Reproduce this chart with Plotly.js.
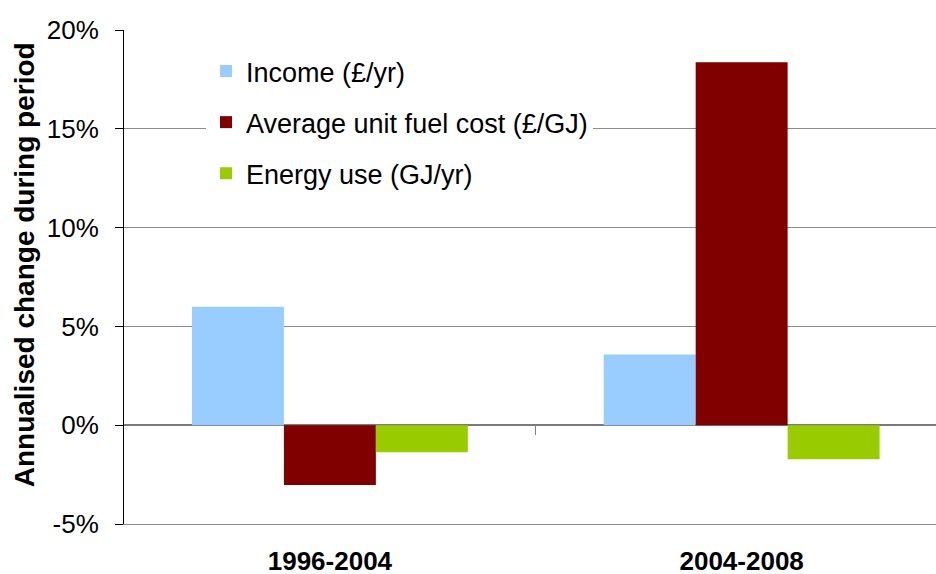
<!DOCTYPE html>
<html>
<head>
<meta charset="utf-8">
<script src="https://cdn.plot.ly/plotly-3.0.1.min.js"></script>
<style>html,body{margin:0;padding:0;background:#fff;}#chart{width:936px;height:574px;}</style>
</head>
<body>
<div id="chart"></div>
<script>
var categories = ["1996-2004", "2004-2008"];
var seriesNames = ["Income (£/yr)", "Average unit fuel cost (£/GJ)", "Energy use (GJ/yr)"];
var income = [6.0, 3.58];
var fuelCost = [-3.02, 18.37];
var energyUse = [-1.37, -1.72];
var yTickVals = [-5, 0, 5, 10, 15, 20];
var yTickText = ["-5%", "0%", "5%", "10%", "15%", "20%"];
var yTitle = "Annualised change during period";
var colors = ["#99CCFF", "#800000", "#99CC00"];

var FONT = "Liberation Sans, Arial, sans-serif";
var values = [income, fuelCost, energyUse];
var traces = values.map(function (v, i) {
  return {
    type: "bar",
    x: categories,
    y: v,
    name: seriesNames[i],
    legendgroup: "g" + i,
    marker: { color: colors[i], line: { width: 0 } },
    hoverinfo: "x+y+name"
  };
});

var layout = {
  width: 936,
  height: 574,
  margin: { l: 124, r: 0, t: 30, b: 50 },
  paper_bgcolor: "#ffffff",
  plot_bgcolor: "#ffffff",
  font: { family: FONT, size: 26, color: "#000000" },
  barmode: "group",
  bargap: 0.33,
  bargroupgap: 0,
  showlegend: true,
  legend: {
    x: 0.101, xanchor: "left",
    y: 0.9656, yanchor: "top",
    bgcolor: "#ffffff",
    borderwidth: 0,
    traceorder: "grouped",
    tracegroupgap: 13,
    font: { family: FONT, size: 27, color: "#000000" }
  },
  xaxis: {
    type: "category",
    range: [-0.5, 1.472],
    showgrid: false,
    zeroline: false,
    showline: true,
    linecolor: "#8c8c8c",
    linewidth: 1,
    ticks: "",
    ticklabelstandoff: 14,
    tickfont: { family: FONT, size: 26, color: "#000000", weight: "bold" },
    fixedrange: true
  },
  xaxis2: {
    overlaying: "x",
    anchor: "free",
    position: 0.2,
    side: "bottom",
    range: [-0.5, 1.472],
    tickmode: "array",
    tickvals: [0.5],
    ticks: "outside",
    ticklen: 9,
    tickwidth: 1,
    tickcolor: "#808080",
    showticklabels: false,
    showgrid: false,
    zeroline: false,
    showline: false,
    fixedrange: true
  },
  yaxis: {
    range: [-5, 20],
    tickmode: "array",
    tickvals: yTickVals,
    ticktext: yTickText,
    ticks: "outside",
    ticklen: 8,
    tickwidth: 1,
    tickcolor: "#000000",
    ticklabelstandoff: 11,
    showline: true,
    linecolor: "#000000",
    linewidth: 1,
    showgrid: true,
    gridcolor: "#8c8c8c",
    gridwidth: 1,
    zeroline: true,
    zerolinecolor: "#7a7a7a",
    zerolinewidth: 2,
    tickfont: { family: FONT, size: 26, color: "#000000" },
    fixedrange: true
  },
  annotations: [{
    text: yTitle,
    xref: "paper", yref: "paper",
    x: -0.123, y: 0.524,
    xanchor: "center", yanchor: "middle",
    textangle: -90,
    showarrow: false,
    font: { family: FONT, size: 28, color: "#000000", weight: "bold" }
  }]
};

// invisible helper trace so xaxis2 is drawn
traces.push({
  type: "scatter", x: [], y: [], xaxis: "x2", yaxis: "y",
  showlegend: false, hoverinfo: "skip"
});

Plotly.newPlot("chart", traces, layout, { displayModeBar: false, staticPlot: true });
</script>
</body>
</html>
